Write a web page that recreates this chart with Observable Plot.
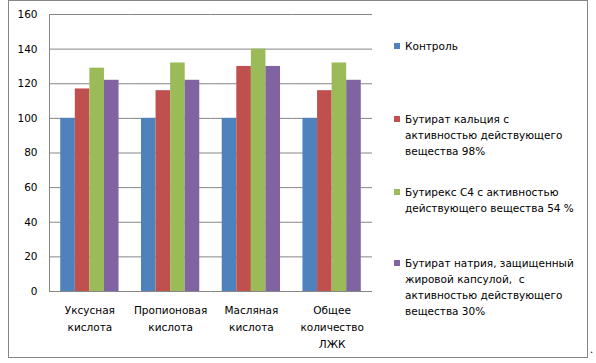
<!DOCTYPE html>
<html><head><meta charset="utf-8">
<script src="https://cdn.jsdelivr.net/npm/d3@7"></script>
<script src="https://cdn.jsdelivr.net/npm/@observablehq/plot@0.6"></script>
<style>
body{margin:0;background:#fff;font-family:"DejaVu Sans",sans-serif;}
#wrap{position:relative;width:596px;height:363px;overflow:hidden;}
#frame{position:absolute;left:8px;top:0;width:580px;height:358px;border:1px solid #868686;box-sizing:border-box;pointer-events:none;}
#legend{position:absolute;left:0;top:0;font-size:10.5px;line-height:16px;color:#000;}
.item{position:absolute;left:394px;white-space:pre;}
.sw{position:absolute;left:0;top:5px;width:6px;height:6px;}
.tx{position:absolute;left:11px;top:0;}
#dot{position:absolute;left:590px;top:344px;font-size:10px;}
</style></head>
<body>
<div id="wrap"><div id="chart"></div><div id="frame"></div><div id="legend"></div><div id="dot">.</div></div>
<script>
const categories = ["Уксусная кислота", "Пропионовая кислота", "Масляная кислота", "Общее количество ЛЖК"];
const categoryLabels = ["Уксусная\nкислота", "Пропионовая\nкислота", "Масляная\nкислота", "Общее\nколичество\nЛЖК"];
const series = [
  "Контроль",
  "Бутират кальция с активностью действующего вещества 98%",
  "Бутирекс С4 с активностью действующего вещества 54 %",
  "Бутират натрия, защищенный жировой капсулой,  с активностью действующего вещества 30%"
];
const legendLines = [
  ["Контроль"],
  ["Бутират кальция с", "активностью действующего", "вещества 98%"],
  ["Бутирекс С4 с активностью", "действующего вещества 54 %"],
  ["Бутират натрия, защищенный", "жировой капсулой,  с", "активностью действующего", "вещества 30%"]
];
const colors = ["#4F81BD", "#C0504D", "#9BBB59", "#8064A2"];
const control = [100, 100, 100, 100];
const calcium = [117, 116, 130, 116];
const butirex = [129, 132, 140, 132];
const sodium = [122, 122, 130, 122];
const yTicks = [0, 20, 40, 60, 80, 100, 120, 140, 160];

const valuesBySeries = [control, calcium, butirex, sodium];
const data = [];
categories.forEach((c, i) => series.forEach((s, j) => data.push({category: c, series: s, value: valuesBySeries[j][i]})));
const labelMap = new Map(categories.map((c, i) => [c, categoryLabels[i]]));

const chart = Plot.plot({
  width: 596, height: 363,
  marginLeft: 49, marginRight: 224, marginTop: 14, marginBottom: 72,
  style: {fontFamily: "DejaVu Sans", fontSize: "10.5px", color: "#000", background: "transparent"},
  fx: {domain: categories, padding: 0, round: false, label: null, axis: null},
  x: {domain: series, paddingInner: 0, paddingOuter: 0.77, round: false, axis: null},
  y: {domain: [0, 160], label: null},
  color: {domain: series, range: colors},
  marks: [
    Plot.gridY(yTicks, {stroke: "#868686", strokeOpacity: 1}),
    Plot.barY(data, {fx: "category", x: "series", y: "value", fill: "series"}),
    Plot.frame({anchor: "left", stroke: "#868686", facetAnchor: "left"}),
    Plot.axisY(yTicks, {tickSize: 0, tickPadding: 12, label: null, fill: "#000"}),
    Plot.axisFx({anchor: "bottom", tickSize: 0, tickPadding: 10, label: null, lineHeight: 1.62, tickFormat: d => labelMap.get(d), fill: "#000"})
  ]
});
document.getElementById("chart").append(chart);

const legend = document.getElementById("legend");
const tops = [38, 111, 184, 255];
legendLines.forEach((lines, i) => {
  const item = document.createElement("div");
  item.className = "item";
  item.style.top = tops[i] + "px";
  const sw = document.createElement("div");
  sw.className = "sw";
  sw.style.background = colors[i];
  const tx = document.createElement("div");
  tx.className = "tx";
  tx.textContent = lines.join("\n");
  item.append(sw, tx);
  legend.append(item);
});
</script>
</body></html>
